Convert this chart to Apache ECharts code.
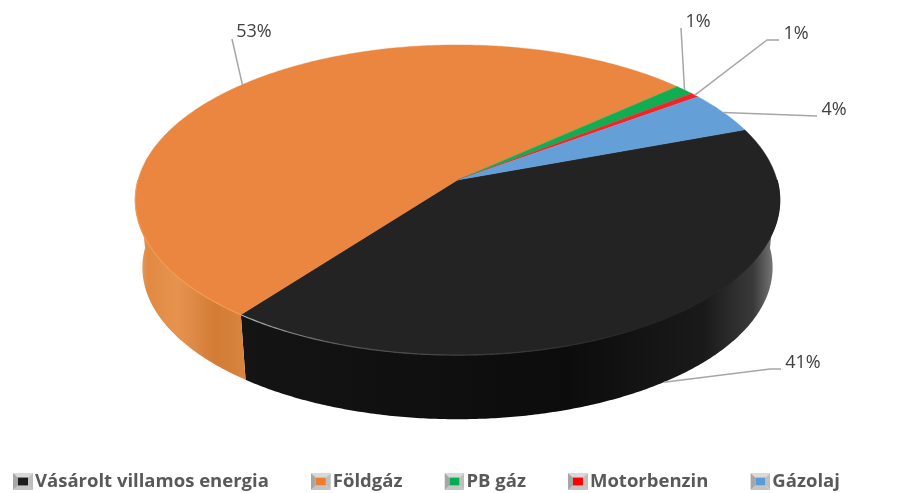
<!DOCTYPE html>
<html>
<head>
<meta charset="utf-8">
<style>
html, body { margin: 0; padding: 0; background: #fff; }
#chart { width: 911px; height: 493px; }
</style>
<script src="https://cdn.jsdelivr.net/npm/echarts@6/dist/echarts.min.js"></script>
</head>
<body>
<div id="chart"></div>
<script>
// values, labels are the rounded values
var categories = ['Vásárolt villamos energia', 'Földgáz', 'PB gáz', 'Motorbenzin', 'Gázolaj'];
var shares = [41, 53, 1.1, 0.5, 4.4];
var topColors = ['#232323', '#EA8640', '#12AD52', '#F5222A', '#659FD8'];
var legendColors = ['#1c1c1c', '#ED7D31', '#00B050', '#FF0000', '#5B9BD5'];

// where the pie sits: perspective projection of a disc
var CX = 457.5, CY = 180, R = 319.5, RY = 152.5, K = 0.129;
var START_DEG = -20.1, WALL = 68, WALL_SHRINK = 0.978;

// label anchors and elbows, one per slice
var labelPos = [[803, 363], [254, 32], [698, 22], [796, 34], [834, 110]];
var elbows = [[[770, 369], [781, 369]], [[232, 39]], [[681, 28]], [[767, 40], [779, 40]], [[817, 116]]];
var leaderDepth = [1, 0, 0, 0, 0];

function project(deg, depth){
	var a = deg * Math.PI / 180;
	var u = Math.cos(a), v = Math.sin(a);
	var d = 1 - K * v;
	var sx = depth ? WALL_SHRINK : 1;
	return [CX + R * u / d * sx, CY + RY * v / d * sx + (depth ? WALL : 0)];
}

function arcPoints(from, to, depth){
	var pts = [];
	var n = Math.max(2, Math.ceil(Math.abs(to - from) * 2));
	for(var i = 0; i <= n; i++)
		pts.push(project(from + (to - from) * i / n, depth));
	return pts;
}

function sliceRange(idx){
	var sum = 0, total = 0;
	for(var i = 0; i < shares.length; i++){
		total += shares[i];
		if(i < idx) sum += shares[i];
	}
	var from = START_DEG + sum / total * 360;
	return [from, from + shares[idx] / total * 360];
}

function gradientX(x0, x1, stops){
	return new echarts.graphic.LinearGradient(x0, 0, x1, 0, stops, true);
}

var wallFills = [
	gradientX(245, 780, [
		{offset: 0, color: '#141414'}, {offset: 0.6, color: '#0c0c0c'},
		{offset: 0.86, color: '#1a1a1a'}, {offset: 0.95, color: '#3a3a3a'}, {offset: 1, color: '#8a8a8a'}
	]),
	gradientX(135, 247, [
		{offset: 0, color: '#EFA468'}, {offset: 0.12, color: '#E08A42'}, {offset: 0.38, color: '#E79350'},
		{offset: 0.72, color: '#D27C35'}, {offset: 1, color: '#D98540'}
	])
];
var rimColors = [
	gradientX(245, 640, [{offset: 0, color: '#b0b0b0'}, {offset: 0.25, color: '#555'}, {offset: 1, color: '#222'}]),
	'#F59A50'
];

function renderSlice(params, api){
	var idx = params.seriesIndex;
	var range = sliceRange(idx);
	var mid = (range[0] + range[1]) / 2;
	var children = [];

	// side wall, only the part that faces the viewer
	var wFrom = Math.max(range[0], 0), wTo = Math.min(range[1], 180);
	if(wTo > wFrom && wallFills[idx]){
		var top = arcPoints(wFrom, wTo, false);
		var bottom = arcPoints(wTo, wFrom, true);
		children.push({
			type: 'polygon', z2: 1,
			shape: {points: top.concat(bottom)},
			style: {fill: wallFills[idx]}
		});
		children.push({
			type: 'polyline', z2: 3,
			shape: {points: top},
			style: {fill: null, stroke: rimColors[idx], lineWidth: 1.2}
		});
	}

	// top face
	var apex = [CX, CY];
	children.push({
		type: 'polygon', z2: 2,
		shape: {points: [apex].concat(arcPoints(range[0], range[1], false))},
		style: {fill: topColors[idx], stroke: topColors[idx], lineWidth: 0.4}
	});

	// leader line and label
	children.push({
		type: 'polyline', z2: 4,
		shape: {points: [project(mid, leaderDepth[idx])].concat(elbows[idx])},
		style: {fill: null, stroke: '#A6A6A6', lineWidth: 1.5}
	});
	children.push({
		type: 'text', z2: 5,
		style: {
			x: labelPos[idx][0], y: labelPos[idx][1],
			text: Math.round(shares[idx] + 0.001) + '%',
			align: 'center', verticalAlign: 'middle',
			font: '18px "Open Sans"', fill: '#404040'
		}
	});
	return {type: 'group', children: children};
}

function bevelIcon(color){
	var svg = '<svg xmlns="http://www.w3.org/2000/svg" width="20" height="17" viewBox="0 0 20 17">'
		+ '<polygon points="0,0 20,0 15,4.5 5,4.5" fill="#d9d9d9"/>'
		+ '<polygon points="0,17 20,17 15,12.5 5,12.5" fill="#c4c4c4"/>'
		+ '<polygon points="0,0 5,4.5 5,12.5 0,17" fill="#a6a6a6"/>'
		+ '<polygon points="20,0 15,4.5 15,12.5 20,17" fill="#bfbfbf"/>'
		+ '<rect x="5" y="4.5" width="10" height="8" fill="' + color + '"/>'
		+ '</svg>';
	return 'image://data:image/svg+xml;charset=utf-8,' + encodeURIComponent(svg);
}

var chart = echarts.init(document.getElementById('chart'));
chart.setOption({
	animation: false,
	legend: {
		left: 8, top: 467,
		selectedMode: false,
		itemWidth: 20, itemHeight: 17, itemGap: 42,
		textStyle: {
			fontFamily: '"Open Sans"', fontWeight: 'bold', fontSize: 18.5, color: '#595959',
			padding: [0, 0, 0, -3]
		},
		data: categories.map(function(name, i){
			return {name: name, icon: bevelIcon(legendColors[i])};
		})
	},
	series: categories.map(function(name, i){
		return {
			type: 'custom',
			name: name,
			coordinateSystem: 'none',
			renderItem: renderSlice,
			itemStyle: {color: legendColors[i]},
			data: [[shares[i]]]
		};
	})
});
</script>
</body>
</html>
